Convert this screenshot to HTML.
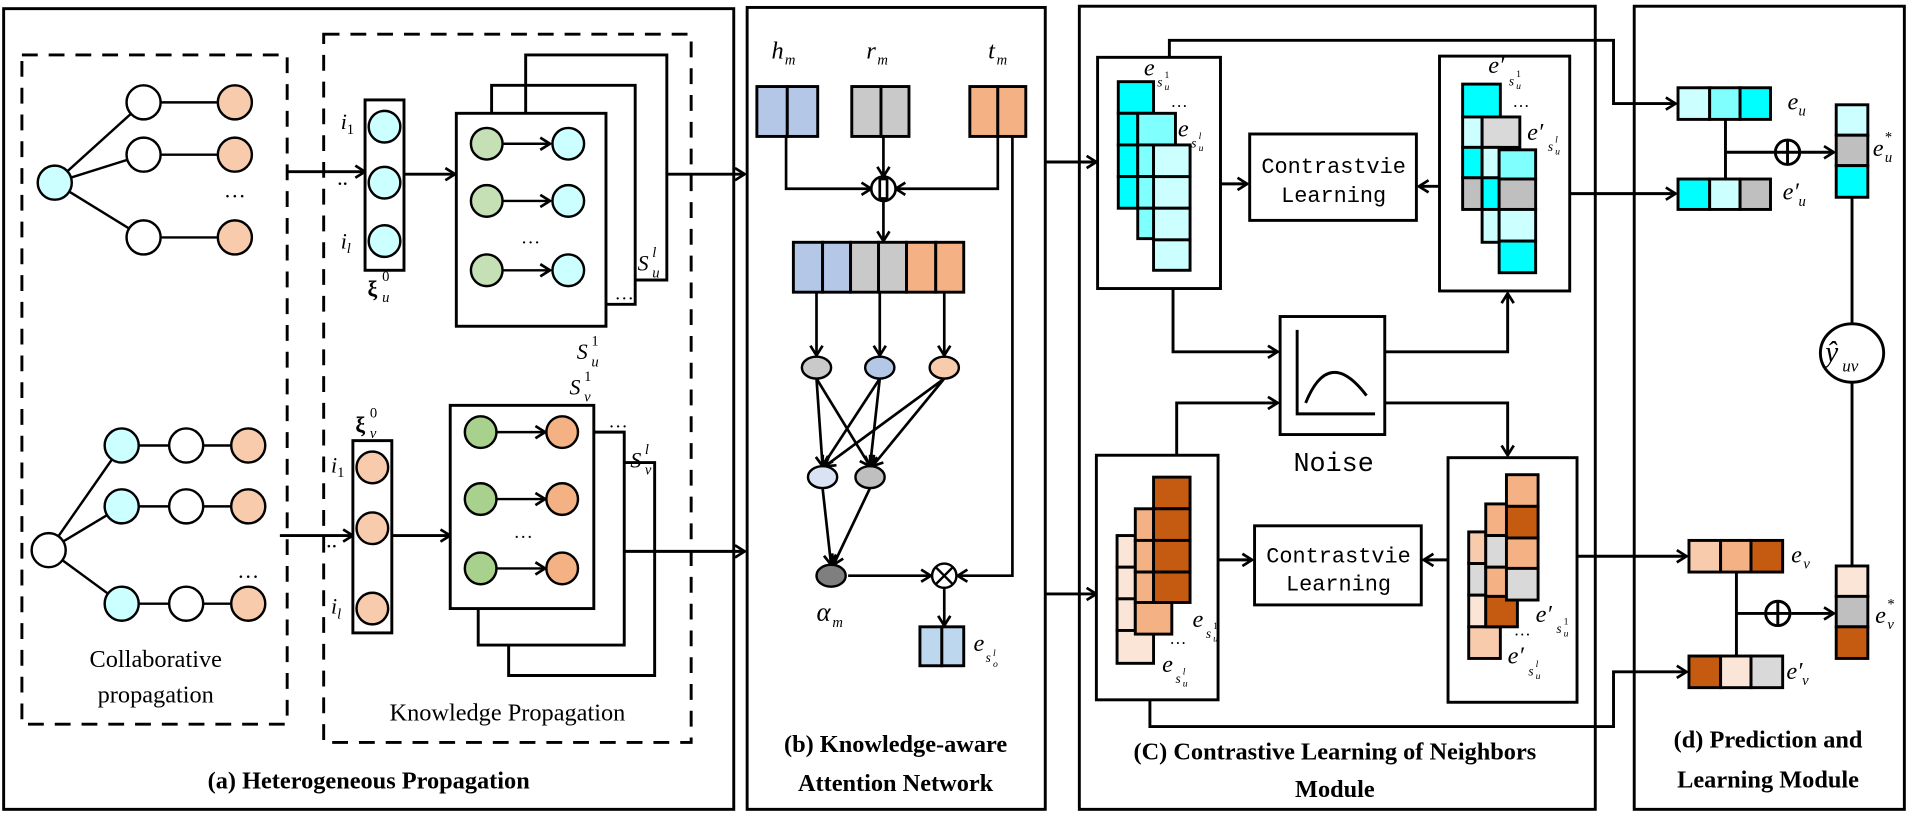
<!DOCTYPE html>
<html><head><meta charset="utf-8"><style>
html,body{margin:0;padding:0;background:#fff}
svg{display:block}
.s{font-family:"Liberation Serif",serif}
.m{font-family:"Liberation Mono",monospace}
</style></head><body>
<svg width="1908" height="818" viewBox="0 0 1568 672" xmlns="http://www.w3.org/2000/svg">
<defs>
<marker id="a" markerUnits="userSpaceOnUse" markerWidth="14" markerHeight="14" refX="10" refY="6" orient="auto">
<path d="M2,1 L10,6 L2,11" fill="none" stroke="#000" stroke-width="2.2"/></marker>
</defs>
<g fill="none" stroke="#000" stroke-width="2.4">
<rect x="3" y="7" width="600" height="658"/>
<rect x="614" y="6" width="245" height="659"/>
<rect x="887" y="5" width="424" height="660"/>
<rect x="1343" y="5" width="222" height="660"/>
</g>
<g fill="none" stroke="#000" stroke-width="2.4" stroke-dasharray="13,9">
<rect x="18" y="45" width="218" height="550"/>
<rect x="266" y="28" width="302" height="582"/>
</g>
<g stroke="#000" stroke-width="2">
<line x1="45" y1="150" x2="118" y2="84"/><line x1="45" y1="150" x2="118" y2="127"/><line x1="45" y1="150" x2="118" y2="195"/>
<line x1="118" y1="84" x2="193" y2="84"/><line x1="118" y1="127" x2="193" y2="127"/><line x1="118" y1="195" x2="193" y2="195"/>
<line x1="40" y1="452" x2="100" y2="366"/><line x1="40" y1="452" x2="100" y2="416"/><line x1="40" y1="452" x2="100" y2="496"/>
<line x1="100" y1="366" x2="204" y2="366"/><line x1="100" y1="416" x2="204" y2="416"/><line x1="100" y1="496" x2="204" y2="496"/>
</g>
<g stroke="#000" stroke-width="2">
<circle cx="45" cy="150" r="14" fill="#CCFFFF"/>
<circle cx="118" cy="84" r="14" fill="#fff"/><circle cx="118" cy="127" r="14" fill="#fff"/><circle cx="118" cy="195" r="14" fill="#fff"/>
<circle cx="193" cy="84" r="14" fill="#F8CBAD"/><circle cx="193" cy="127" r="14" fill="#F8CBAD"/><circle cx="193" cy="195" r="14" fill="#F8CBAD"/>
<circle cx="40" cy="452" r="14" fill="#fff"/>
<circle cx="100" cy="366" r="14" fill="#CCFFFF"/><circle cx="100" cy="416" r="14" fill="#CCFFFF"/><circle cx="100" cy="496" r="14" fill="#CCFFFF"/>
<circle cx="153" cy="366" r="14" fill="#fff"/><circle cx="153" cy="416" r="14" fill="#fff"/><circle cx="153" cy="496" r="14" fill="#fff"/>
<circle cx="204" cy="366" r="14" fill="#F8CBAD"/><circle cx="204" cy="416" r="14" fill="#F8CBAD"/><circle cx="204" cy="496" r="14" fill="#F8CBAD"/>
</g>
<text x="193" y="162" class="s" font-size="18" text-anchor="middle">…</text>
<text x="204" y="475" class="s" font-size="18" text-anchor="middle">…</text>
<g fill="none" stroke="#000" stroke-width="2.4">
<line x1="236" y1="141" x2="300" y2="141" marker-end="url(#a)"/>
<rect x="300" y="82" width="32" height="140" fill="#fff"/>
<line x1="332" y1="143" x2="374" y2="143" marker-end="url(#a)"/>
<polyline points="432,93 432,45 548,45 548,230 522,230"/>
<polyline points="404,93 404,70 522,70 522,250 498,250"/>
<rect x="375" y="93" width="123" height="175" fill="#fff"/>
<line x1="548" y1="143" x2="612" y2="143" marker-end="url(#a)"/>
</g>
<g stroke="#000" stroke-width="2">
<circle cx="316" cy="104" r="13" fill="#CCFFFF"/><circle cx="316" cy="150" r="13" fill="#CCFFFF"/><circle cx="316" cy="198" r="13" fill="#CCFFFF"/>
<circle cx="400" cy="118" r="13" fill="#C5E0B4"/><circle cx="400" cy="165" r="13" fill="#C5E0B4"/><circle cx="400" cy="222" r="13" fill="#C5E0B4"/>
<line x1="413" y1="118" x2="452" y2="118" marker-end="url(#a)"/><line x1="413" y1="165" x2="452" y2="165" marker-end="url(#a)"/><line x1="413" y1="222" x2="452" y2="222" marker-end="url(#a)"/>
<circle cx="467" cy="118" r="13" fill="#CCFFFF"/><circle cx="467" cy="165" r="13" fill="#CCFFFF"/><circle cx="467" cy="222" r="13" fill="#CCFFFF"/>
</g>
<g class="s" font-size="18" font-style="italic">
<text x="280" y="106">i<tspan font-size="12" font-style="normal" dy="4">1</tspan></text>
<text x="280" y="204">i<tspan font-size="12" dy="4">l</tspan></text>
<text x="277" y="152" font-style="normal">..</text>
<text x="436" y="200" font-style="normal" font-size="16" text-anchor="middle">…</text>
<text x="302" y="243" font-style="normal" font-weight="bold">ξ</text><text x="314" y="231" font-size="12" font-style="normal">0</text><text x="314" y="248" font-size="12">u</text>
<text x="474" y="295">S</text><text x="486" y="284" font-size="12" font-style="normal">1</text><text x="486" y="301" font-size="12">u</text>
<text x="524" y="222">S</text><text x="536" y="211" font-size="12">l</text><text x="536" y="228" font-size="12">u</text>
<text x="505" y="246" font-style="normal" font-size="16">…</text>
</g>
<g fill="none" stroke="#000" stroke-width="2.4">
<line x1="230" y1="440" x2="290" y2="440" marker-end="url(#a)"/>
<rect x="290" y="362" width="32" height="158" fill="#fff"/>
<line x1="322" y1="440" x2="370" y2="440" marker-end="url(#a)"/>
<polyline points="393,500 393,530 513,530 513,355 488,355"/>
<polyline points="418,530 418,555 538,555 538,380 513,380"/>
<rect x="370" y="333" width="118" height="167" fill="#fff"/>
<line x1="513" y1="453" x2="612" y2="453" marker-end="url(#a)"/>
</g>
<g stroke="#000" stroke-width="2">
<circle cx="306" cy="384" r="13" fill="#F8CBAD"/><circle cx="306" cy="434" r="13" fill="#F8CBAD"/><circle cx="306" cy="500" r="13" fill="#F8CBAD"/>
<circle cx="395" cy="355" r="13" fill="#A9D18E"/><circle cx="395" cy="410" r="13" fill="#A9D18E"/><circle cx="395" cy="467" r="13" fill="#A9D18E"/>
<line x1="408" y1="355" x2="448" y2="355" marker-end="url(#a)"/><line x1="408" y1="410" x2="448" y2="410" marker-end="url(#a)"/><line x1="408" y1="467" x2="448" y2="467" marker-end="url(#a)"/>
<circle cx="462" cy="355" r="13" fill="#F4B183"/><circle cx="462" cy="410" r="13" fill="#F4B183"/><circle cx="462" cy="467" r="13" fill="#F4B183"/>
</g>
<g class="s" font-size="18" font-style="italic">
<text x="272" y="388">i<tspan font-size="12" font-style="normal" dy="4">1</tspan></text>
<text x="272" y="504">i<tspan font-size="12" dy="4">l</tspan></text>
<text x="268" y="450" font-style="normal">..</text>
<text x="430" y="442" font-style="normal" font-size="16" text-anchor="middle">…</text>
<text x="292" y="355" font-style="normal" font-weight="bold">ξ</text><text x="304" y="343" font-size="12" font-style="normal">0</text><text x="304" y="360" font-size="12">v</text>
<text x="468" y="324">S</text><text x="480" y="313" font-size="12" font-style="normal">1</text><text x="480" y="330" font-size="12">v</text>
<text x="518" y="384">S</text><text x="530" y="373" font-size="12">l</text><text x="530" y="390" font-size="12">v</text>
<text x="500" y="351" font-style="normal" font-size="16">…</text>
</g>
<g class="s" font-size="20" text-anchor="middle">
<text x="128" y="548">Collaborative</text>
<text x="128" y="577">propagation</text>
<text x="417" y="592">Knowledge Propagation</text>
<text x="303" y="648" font-weight="bold">(a) Heterogeneous Propagation</text>
</g>
<g class="s" font-size="20" font-style="italic">
<text x="634" y="48">h</text><text x="645" y="53" font-size="12">m</text>
<text x="712" y="48">r</text><text x="721" y="53" font-size="12">m</text>
<text x="812" y="48">t</text><text x="819" y="53" font-size="12">m</text>
</g>
<g stroke="#000" stroke-width="2.4">
<rect x="622" y="71" width="25" height="41" fill="#B4C7E7"/><rect x="647" y="71" width="25" height="41" fill="#B4C7E7"/>
<rect x="700" y="71" width="24" height="41" fill="#C9C9C9"/><rect x="724" y="71" width="23" height="41" fill="#C9C9C9"/>
<rect x="797" y="71" width="23" height="41" fill="#F4B183"/><rect x="820" y="71" width="23" height="41" fill="#F4B183"/>
<rect x="652" y="199" width="24" height="41" fill="#B4C7E7"/><rect x="676" y="199" width="23" height="41" fill="#B4C7E7"/>
<rect x="699" y="199" width="23" height="41" fill="#C9C9C9"/><rect x="722" y="199" width="23" height="41" fill="#C9C9C9"/>
<rect x="745" y="199" width="24" height="41" fill="#F4B183"/><rect x="769" y="199" width="23" height="41" fill="#F4B183"/>
</g>
<g fill="none" stroke="#000" stroke-width="2.2">
<polyline points="646,112 646,155 716,155" marker-end="url(#a)"/>
<line x1="726" y1="112" x2="726" y2="145" marker-end="url(#a)"/>
<polyline points="820,112 820,155 736,155" marker-end="url(#a)"/>
<circle cx="726" cy="155" r="10" fill="#fff"/>
<rect x="723" y="147" width="6" height="16" fill="#fff"/>
<line x1="726" y1="165" x2="726" y2="198" marker-end="url(#a)"/>
<line x1="671" y1="240" x2="671" y2="292" marker-end="url(#a)"/>
<line x1="723" y1="240" x2="723" y2="292" marker-end="url(#a)"/>
<line x1="776" y1="240" x2="776" y2="292" marker-end="url(#a)"/>
<line x1="671" y1="311" x2="676" y2="383" marker-end="url(#a)"/>
<line x1="671" y1="311" x2="715" y2="383" marker-end="url(#a)"/>
<line x1="723" y1="311" x2="676" y2="383" marker-end="url(#a)"/>
<line x1="723" y1="311" x2="715" y2="383" marker-end="url(#a)"/>
<line x1="776" y1="311" x2="678" y2="383" marker-end="url(#a)"/>
<line x1="776" y1="311" x2="717" y2="383" marker-end="url(#a)"/>
<line x1="676" y1="401" x2="683" y2="464" marker-end="url(#a)"/>
<line x1="715" y1="401" x2="685" y2="464" marker-end="url(#a)"/>
<line x1="697" y1="473" x2="765" y2="473" marker-end="url(#a)"/>
<polyline points="832,112 832,473 787,473" marker-end="url(#a)"/>
<line x1="776" y1="484" x2="776" y2="514" marker-end="url(#a)"/>
</g>
<g stroke="#000" stroke-width="2">
<ellipse cx="671" cy="302" rx="12" ry="9" fill="#C9C9C9"/>
<ellipse cx="723" cy="302" rx="12" ry="9" fill="#B4C7E7"/>
<ellipse cx="776" cy="302" rx="12" ry="9" fill="#F8CBAD"/>
<ellipse cx="676" cy="392" rx="12" ry="9" fill="#DAE3F3"/>
<ellipse cx="715" cy="392" rx="12" ry="9" fill="#BFBFBF"/>
<ellipse cx="683" cy="473" rx="12" ry="9" fill="#7F7F7F"/>
<circle cx="776" cy="473" r="10" fill="#fff"/>
<line x1="769" y1="466" x2="783" y2="480"/><line x1="783" y1="466" x2="769" y2="480"/>
<rect x="756" y="515" width="18" height="32" fill="#BDD7EE" stroke-width="2.4"/><rect x="774" y="515" width="18" height="32" fill="#BDD7EE" stroke-width="2.4"/>
</g>
<g class="s" font-style="italic">
<text x="671" y="510" font-size="22">α</text><text x="684" y="515" font-size="12">m</text>
<text x="800" y="535" font-size="20">e</text><text x="810" y="544" font-size="11">s</text><text x="816" y="539" font-size="8">l</text><text x="816" y="548" font-size="8">o</text>
</g>
<g class="s" font-size="20" font-weight="bold" text-anchor="middle">
<text x="736" y="618">(b) Knowledge-aware</text>
<text x="736" y="650">Attention Network</text>
</g>
<g fill="none" stroke="#000" stroke-width="2.4">
<line x1="859" y1="133" x2="901" y2="133" marker-end="url(#a)"/>
<line x1="859" y1="488" x2="901" y2="488" marker-end="url(#a)"/>
<polyline points="961,47 961,33 1326,33 1326,85 1377,85" marker-end="url(#a)"/>
<polyline points="945,576 945,597 1326,597 1326,552 1386,552" marker-end="url(#a)"/>
<rect x="902" y="47" width="101" height="190" fill="#fff"/>
<rect x="901" y="374" width="100" height="201" fill="#fff"/>
<rect x="1183" y="46" width="107" height="193" fill="#fff"/>
<rect x="1190" y="376" width="106" height="201" fill="#fff"/>
<rect x="1027" y="110" width="137" height="71"/>
<rect x="1031" y="432" width="137" height="65"/>
<line x1="1003" y1="151" x2="1025" y2="151" marker-end="url(#a)"/>
<line x1="1001" y1="460" x2="1029" y2="460" marker-end="url(#a)"/>
<line x1="1183" y1="153" x2="1166" y2="153" marker-end="url(#a)"/>
<line x1="1190" y1="460" x2="1170" y2="460" marker-end="url(#a)"/>
<polyline points="964,237 964,289 1050,289" marker-end="url(#a)"/>
<polyline points="967,374 967,331 1050,331" marker-end="url(#a)"/>
<rect x="1052" y="260" width="86" height="97"/>
<polyline points="1066,271 1066,340 1130,340"/>
<path d="M1073,331 Q1092,284 1123,325"/>
<polyline points="1138,289 1239,289 1239,241" marker-end="url(#a)"/>
<polyline points="1138,331 1239,331 1239,374" marker-end="url(#a)"/>
<line x1="1290" y1="159" x2="1377" y2="159" marker-end="url(#a)"/>
<line x1="1296" y1="457" x2="1386" y2="457" marker-end="url(#a)"/>
</g>
<g stroke="#000" stroke-width="2.4">
<rect x="948" y="119" width="30" height="26" fill="#CCFFFF"/><rect x="948" y="145" width="30" height="26" fill="#CCFFFF"/><rect x="948" y="171" width="30" height="26" fill="#CCFFFF"/><rect x="948" y="197" width="30" height="25" fill="#CCFFFF"/>
<rect x="919" y="67" width="29" height="26" fill="#00FFFF"/><rect x="919" y="93" width="16" height="26" fill="#00FFFF"/><rect x="919" y="119" width="16" height="26" fill="#00FFFF"/><rect x="919" y="145" width="16" height="26" fill="#00FFFF"/>
<rect x="935" y="93" width="31" height="26" fill="#80FFFF"/><rect x="935" y="119" width="13" height="26" fill="#80FFFF"/><rect x="935" y="145" width="13" height="26" fill="#80FFFF"/><rect x="935" y="171" width="13" height="25" fill="#80FFFF"/>
<rect x="948" y="119" width="30" height="26" fill="#CCFFFF"/>
<rect x="918" y="440" width="15" height="26" fill="#FBE5D6"/><rect x="918" y="466" width="15" height="26" fill="#FBE5D6"/><rect x="918" y="492" width="15" height="26" fill="#FBE5D6"/><rect x="918" y="518" width="30" height="27" fill="#FBE5D6"/>
<rect x="933" y="418" width="15" height="26" fill="#F4B183"/><rect x="933" y="444" width="15" height="26" fill="#F4B183"/><rect x="933" y="470" width="15" height="25" fill="#F4B183"/><rect x="933" y="495" width="30" height="26" fill="#F4B183"/>
<rect x="948" y="392" width="30" height="26" fill="#C55A11"/><rect x="948" y="418" width="30" height="26" fill="#C55A11"/><rect x="948" y="444" width="30" height="26" fill="#C55A11"/><rect x="948" y="470" width="30" height="25" fill="#C55A11"/>
<rect x="1202" y="69" width="31" height="27" fill="#00FFFF"/><rect x="1202" y="96" width="16" height="25" fill="#CCFFFF"/><rect x="1202" y="121" width="16" height="25" fill="#00FFFF"/><rect x="1202" y="146" width="16" height="26" fill="#BFBFBF"/>
<rect x="1218" y="96" width="31" height="25" fill="#D9D9D9"/><rect x="1218" y="121" width="14" height="25" fill="#CCFFFF"/><rect x="1218" y="146" width="14" height="26" fill="#00FFFF"/><rect x="1218" y="172" width="14" height="27" fill="#CCFFFF"/>
<rect x="1232" y="123" width="30" height="24" fill="#80FFFF"/><rect x="1232" y="147" width="30" height="25" fill="#BFBFBF"/><rect x="1232" y="172" width="30" height="26" fill="#CCFFFF"/><rect x="1232" y="198" width="30" height="26" fill="#00FFFF"/>
<rect x="1207" y="437" width="14" height="26" fill="#F8CBAD"/><rect x="1207" y="463" width="14" height="26" fill="#D9D9D9"/><rect x="1207" y="489" width="14" height="26" fill="#FBE5D6"/><rect x="1207" y="515" width="26" height="26" fill="#F8CBAD"/>
<rect x="1221" y="414" width="17" height="26" fill="#F4B183"/><rect x="1221" y="440" width="17" height="26" fill="#D9D9D9"/><rect x="1221" y="466" width="17" height="24" fill="#F4B183"/><rect x="1221" y="490" width="26" height="25" fill="#C55A11"/>
<rect x="1238" y="390" width="26" height="26" fill="#F4B183"/><rect x="1238" y="416" width="26" height="26" fill="#C55A11"/><rect x="1238" y="442" width="26" height="25" fill="#F4B183"/><rect x="1238" y="467" width="26" height="26" fill="#D9D9D9"/>
</g>
<g class="s" font-style="italic">
<text x="940" y="62" font-size="20">e</text><text x="951" y="71" font-size="11">s</text><text x="957" y="64" font-size="8" font-style="normal">1</text><text x="957" y="74" font-size="8">u</text>
<text x="962" y="88" font-size="14" font-style="normal">…</text>
<text x="968" y="112" font-size="20">e</text><text x="979" y="121" font-size="11">s</text><text x="985" y="114" font-size="8">l</text><text x="985" y="124" font-size="8">u</text>
<text x="980" y="515" font-size="20">e</text><text x="991" y="524" font-size="11">s</text><text x="997" y="517" font-size="8" font-style="normal">1</text><text x="997" y="527" font-size="8">u</text>
<text x="961" y="529" font-size="14" font-style="normal">…</text>
<text x="955" y="552" font-size="20">e</text><text x="966" y="561" font-size="11">s</text><text x="972" y="554" font-size="8">l</text><text x="972" y="564" font-size="8">u</text>
<text x="1223" y="60" font-size="20">e′</text><text x="1240" y="70" font-size="11">s</text><text x="1246" y="63" font-size="8" font-style="normal">1</text><text x="1246" y="73" font-size="8">u</text>
<text x="1243" y="88" font-size="14" font-style="normal">…</text>
<text x="1255" y="115" font-size="20">e′</text><text x="1272" y="124" font-size="11">s</text><text x="1278" y="117" font-size="8">l</text><text x="1278" y="127" font-size="8">u</text>
<text x="1262" y="511" font-size="20">e′</text><text x="1279" y="520" font-size="11">s</text><text x="1285" y="513" font-size="8" font-style="normal">1</text><text x="1285" y="523" font-size="8">u</text>
<text x="1244" y="522" font-size="14" font-style="normal">…</text>
<text x="1239" y="545" font-size="20">e′</text><text x="1256" y="555" font-size="11">s</text><text x="1262" y="548" font-size="8">l</text><text x="1262" y="558" font-size="8">u</text>
</g>
<g class="m" font-size="18" text-anchor="middle">
<text x="1096" y="142">Contrastvie</text><text x="1096" y="166">Learning</text>
<text x="1100" y="462">Contrastvie</text><text x="1100" y="485">Learning</text>
<text x="1096" y="387" font-size="22">Noise</text>
</g>
<g class="s" font-size="20" font-weight="bold" text-anchor="middle">
<text x="1097" y="624">(C)  Contrastive Learning of Neighbors</text>
<text x="1097" y="655">Module</text>
</g>
<g stroke="#000" stroke-width="2.4">
<rect x="1379" y="72" width="26" height="26" fill="#CCFFFF"/><rect x="1405" y="72" width="25" height="26" fill="#80FFFF"/><rect x="1430" y="72" width="25" height="26" fill="#00FFFF"/>
<rect x="1379" y="147" width="26" height="25" fill="#00FFFF"/><rect x="1405" y="147" width="25" height="25" fill="#CCFFFF"/><rect x="1430" y="147" width="25" height="25" fill="#BFBFBF"/>
<rect x="1509" y="86" width="26" height="25" fill="#CCFFFF"/><rect x="1509" y="111" width="26" height="25" fill="#BFBFBF"/><rect x="1509" y="136" width="26" height="26" fill="#00FFFF"/>
<rect x="1388" y="444" width="26" height="26" fill="#F8CBAD"/><rect x="1414" y="444" width="25" height="26" fill="#F4B183"/><rect x="1439" y="444" width="26" height="26" fill="#C55A11"/>
<rect x="1388" y="539" width="26" height="26" fill="#C55A11"/><rect x="1414" y="539" width="25" height="26" fill="#FBE5D6"/><rect x="1439" y="539" width="26" height="26" fill="#D9D9D9"/>
<rect x="1509" y="465" width="26" height="25" fill="#FBE5D6"/><rect x="1509" y="490" width="26" height="25" fill="#BFBFBF"/><rect x="1509" y="515" width="26" height="26" fill="#C55A11"/>
</g>
<g fill="none" stroke="#000" stroke-width="2.4">
<line x1="1418" y1="98" x2="1418" y2="147"/>
<line x1="1418" y1="125" x2="1458" y2="125"/>
<line x1="1480" y1="125" x2="1507" y2="125" marker-end="url(#a)"/>
<circle cx="1469" cy="125" r="10"/><line x1="1459" y1="125" x2="1479" y2="125"/><line x1="1469" y1="115" x2="1469" y2="135"/>
<line x1="1427" y1="470" x2="1427" y2="539"/>
<line x1="1427" y1="504" x2="1450" y2="504"/>
<line x1="1472" y1="504" x2="1507" y2="504" marker-end="url(#a)"/>
<circle cx="1461" cy="504" r="10"/><line x1="1451" y1="504" x2="1471" y2="504"/><line x1="1461" y1="494" x2="1461" y2="514"/>
<line x1="1522" y1="162" x2="1522" y2="266"/>
<line x1="1522" y1="314" x2="1522" y2="465"/>
<ellipse cx="1522" cy="290" rx="26" ry="24" fill="#fff"/>
</g>
<g class="s" font-style="italic">
<text x="1500" y="297" font-size="24">ŷ</text><text x="1514" y="305" font-size="14">uv</text>
<text x="1469" y="90" font-size="20">e</text><text x="1478" y="95" font-size="12">u</text>
<text x="1465" y="164" font-size="20">e′</text><text x="1478" y="169" font-size="12">u</text>
<text x="1539" y="128" font-size="20">e</text><text x="1549" y="116" font-size="12" font-style="normal">*</text><text x="1549" y="133" font-size="12">u</text>
<text x="1472" y="462" font-size="20">e</text><text x="1482" y="467" font-size="12">v</text>
<text x="1468" y="558" font-size="20">e′</text><text x="1481" y="563" font-size="12">v</text>
<text x="1541" y="512" font-size="20">e</text><text x="1551" y="500" font-size="12" font-style="normal">*</text><text x="1551" y="517" font-size="12">v</text>
</g>
<g class="s" font-size="20" font-weight="bold" text-anchor="middle">
<text x="1453" y="614">(d) Prediction and</text>
<text x="1453" y="647">Learning Module</text>
</g>
</svg>
</body></html>
